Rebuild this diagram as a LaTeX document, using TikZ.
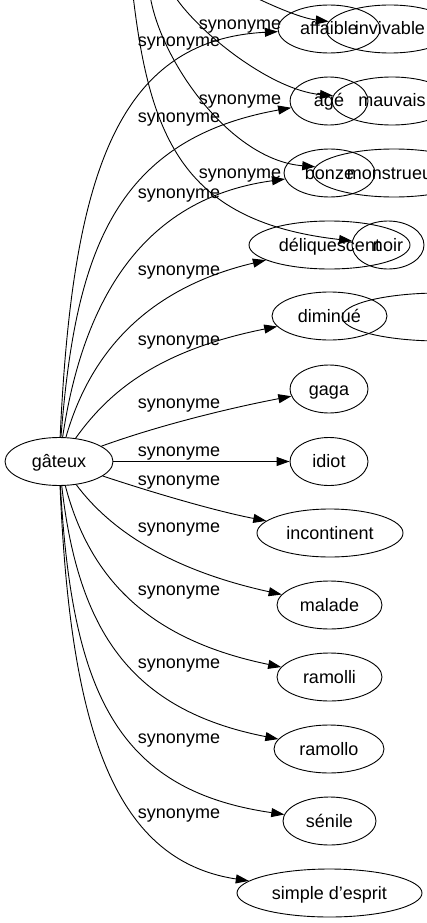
\documentclass[tikz,border=0pt]{standalone}
\usepackage{fontspec}
\setmainfont{Liberation Sans}
\usepackage{tikz}
\usetikzlibrary{shapes.geometric}
\usetikzlibrary{arrows.meta}

\begin{document}
\begin{tikzpicture}[x=1pt,y=-1pt,line width=.9pt,
  mot/.style={draw,ellipse,inner sep=0pt,minimum height=48pt,text height=12pt,text depth=0pt,font=\fontsize{18pt}{22pt}\selectfont},
  syn/.style={inner sep=0pt,text height=12pt,text depth=0pt,font=\fontsize{18pt}{22pt}\selectfont},
  lien/.style={-{Triangle[length=13pt,width=9pt]}}]
\useasboundingbox (0,0) rectangle (427,923);
\clip (0,0) rectangle (427,923);

\node[mot,minimum width=108pt] (gateux) at (59,461.5) {gâteux};
\node[mot,minimum width=102pt] (affaible) at (329,29) {affaible};
\node[mot,minimum width=128pt] (invivable) at (390,29) {invivable};
\node[mot,minimum width=78pt] (age) at (329,101) {âgé};
\node[mot,minimum width=120pt] (mauvais) at (392,101) {mauvais};
\node[mot,minimum width=91pt] (bonze) at (329.5,173) {bonze};
\node[mot,minimum width=162pt] (monstrueux) at (394,173) {monstrueux};
\node[mot,minimum width=161pt] (deliq) at (329.5,245) {déliquescent};
\node[mot,minimum width=72pt] (noir) at (388,245) {noir};
\node[mot,minimum width=115pt] (diminue) at (329.5,316) {diminué};
\node[mot,minimum width=196pt] (vide) at (440,317) {};
\node[mot,minimum width=78pt] (gaga) at (329,389) {gaga};
\node[mot,minimum width=78pt] (idiot) at (329,461.5) {idiot};
\node[mot,minimum width=146pt] (incontinent) at (330,533) {incontinent};
\node[mot,minimum width=105pt] (malade) at (329.5,605) {malade};
\node[mot,minimum width=105pt] (ramolli) at (329.5,677) {ramolli};
\node[mot,minimum width=110pt] (ramollo) at (329,749) {ramollo};
\node[mot,minimum width=93pt] (senile) at (329.5,821) {sénile};
\node[mot,minimum width=185pt] (simple) at (329.5,893) {simple d'esprit};

% labels
\foreach \y [count=\i] in {41,116,192,269,339,402,450,479,526,589,662,737,812}
  \node[syn] (s\i) at (179,\y) {synonyme};
\foreach \y [count=\i] in {24,99,172}
  \node[syn] (t\i) at (240,\y) {synonyme};

\draw[lien] (gateux) .. controls (72,180) and (115,40) .. (affaible);
\draw[lien] (gateux) .. controls (75,260) and (110,140) .. (age);
\draw[lien] (gateux) .. controls (80,320) and (130,200) .. (bonze);
\draw[lien] (gateux) .. controls (88,360) and (140,290) .. (deliq);
\draw[lien] (gateux) .. controls (110,390) and (160,350) .. (diminue);
\draw[lien] (gateux) .. controls (160,425) and (230,408) .. (gaga);
\draw[lien] (gateux) -- (idiot);
\draw[lien] (gateux) .. controls (160,495) and (220,512) .. (incontinent);
\draw[lien] (gateux) .. controls (110,530) and (170,570) .. (malade);
\draw[lien] (gateux) .. controls (90,580) and (150,640) .. (ramolli);
\draw[lien] (gateux) .. controls (78,630) and (130,710) .. (ramollo);
\draw[lien] (gateux) .. controls (72,690) and (115,790) .. (senile);
\draw[lien] (gateux) .. controls (70,720) and (110,860) .. (simple);

% edges coming from above
\coordinate (h1) at (240,-10);
\coordinate (h2) at (172,-8);
\coordinate (h3) at (150,-5);
\coordinate (h4) at (133,-5);
\draw[lien] (h1) .. controls (270,5) and (300,18) .. (invivable);
\draw[lien] (h2) .. controls (195,30) and (270,90) .. (mauvais);
\draw[lien] (h3) .. controls (160,60) and (230,160) .. (monstrueux);
\draw[lien] (h4) .. controls (150,140) and (185,222) .. (noir);
\end{tikzpicture}
\end{document}
